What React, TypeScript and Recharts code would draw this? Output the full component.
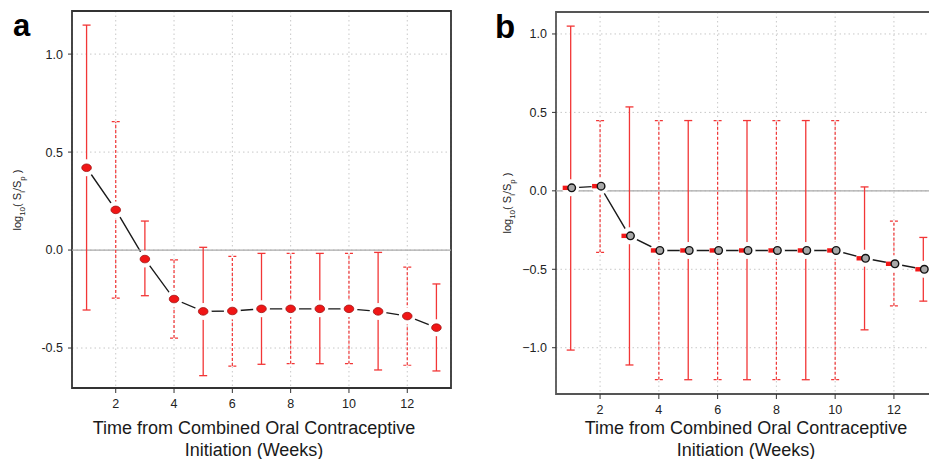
import React from "react";
import {
  ComposedChart,
  Line,
  Scatter,
  ErrorBar,
  XAxis,
  YAxis,
  CartesianGrid,
  ReferenceLine,
  ReferenceArea,
} from "recharts";

// weeks since COC initiation
const weeks = [1, 2, 3, 4, 5, 6, 7, 8, 9, 10, 11, 12, 13];
const xTicks = [2, 4, 6, 8, 10, 12];

// panel a
const aMean = [0.42, 0.205, -0.046, -0.25, -0.313, -0.311, -0.3, -0.3, -0.3, -0.3, -0.313, -0.337, -0.396];
const aUpper = [1.148, 0.655, 0.148, -0.05, 0.014, -0.032, -0.017, -0.017, -0.017, -0.017, -0.012, -0.087, -0.173];
const aLower = [-0.306, -0.245, -0.233, -0.449, -0.641, -0.592, -0.583, -0.58, -0.58, -0.58, -0.612, -0.588, -0.617];
const aYTicks = [-0.5, 0, 0.5, 1];

// panel b
const bMean = [0.019, 0.03, -0.287, -0.38, -0.38, -0.38, -0.38, -0.38, -0.38, -0.38, -0.43, -0.465, -0.5];
const bUpper = [1.05, 0.448, 0.535, 0.448, 0.448, 0.448, 0.448, 0.448, 0.448, 0.448, 0.025, -0.193, -0.297];
const bLower = [-1.015, -0.392, -1.11, -1.204, -1.204, -1.204, -1.204, -1.204, -1.204, -1.204, -0.886, -0.733, -0.703];
const bYTicks = [-1, -0.5, 0, 0.5, 1];

const RED = "#f23636";
const FONT = "'Liberation Sans', Arial, sans-serif";

function buildRows(mean: number[], lo: number[], hi: number[]) {
  return weeks.map((x, i) => ({
    x,
    v: mean[i],
    err: [mean[i] - lo[i], hi[i] - mean[i]],
  }));
}

const Halo = (p: any) => <circle cx={p.cx} cy={p.cy} r={8.5} fill="#fff" />;
const Nothing = () => <g />;

const MarkerA = (p: any) => (
  <ellipse cx={p.cx} cy={p.cy} rx={4.8} ry={3.8} fill="#f01616" stroke="#a01212" strokeWidth={0.8} />
);

const MarkerB = (p: any) => (
  <g>
    <rect x={p.cx - 8} y={p.cy - 2.2} width={9} height={4.4} fill="#f21818" />
    <circle cx={p.cx + 1} cy={p.cy} r={3.8} fill="#a8a8a8" stroke="#111" strokeWidth={1.4} />
  </g>
);

const fmtA = (v: number) => (v < 0 ? "-" + Math.abs(v).toFixed(1) : v.toFixed(1));
const fmtB = (v: number) => (v < 0 ? "\u2212" + Math.abs(v).toFixed(1) : v.toFixed(1));

interface PanelProps {
  rows: { x: number; v: number; err: number[] }[];
  width: number;
  margin: { top: number; right: number; bottom: number; left: number };
  yAxisWidth: number;
  xDomain: [number, number];
  yDomain: [number, number];
  yTicks: number[];
  fmt: (v: number) => string;
  marker: (p: any) => React.ReactElement;
  frame: string;
}

function Panel({ rows, width, margin, yAxisWidth, xDomain, yDomain, yTicks, fmt, marker, frame }: PanelProps) {
  const odd = rows.filter((r) => r.x % 2 === 1);
  const even = rows.filter((r) => r.x % 2 === 0);
  return (
    <ComposedChart width={width} height={459} data={rows} margin={margin}>
      <CartesianGrid stroke="#c8c8c8" strokeDasharray="1.5 3" />
      <XAxis
        dataKey="x"
        type="number"
        domain={xDomain}
        ticks={xTicks}
        interval={0}
        allowDataOverflow
        axisLine={false}
        tickSize={5}
        tickMargin={6}
        height={30}
        tickLine={{ stroke: "#333" }}
        tick={{ fontSize: 12.5, fill: "#222", fontFamily: FONT }}
      />
      <YAxis
        type="number"
        domain={yDomain}
        ticks={yTicks}
        tickFormatter={fmt}
        interval={0}
        allowDataOverflow
        axisLine={false}
        width={yAxisWidth}
        tickSize={4}
        tickMargin={5}
        tickLine={{ stroke: "#333" }}
        tick={{ fontSize: 12.5, fill: "#222", fontFamily: FONT }}
      />
      <Line dataKey="v" stroke="#1a1a1a" strokeWidth={1.4} dot={false} isAnimationActive={false} />
      <Scatter data={rows} dataKey="v" shape={Halo} isAnimationActive={false} />
      <ReferenceLine y={0} stroke="#aaaaaa" strokeWidth={1.2} />
      <ReferenceArea
        x1={xDomain[0]}
        x2={xDomain[1]}
        y1={yDomain[0]}
        y2={yDomain[1]}
        fill="none"
        fillOpacity={0}
        stroke={frame}
        strokeWidth={1.8}
      />
      <Scatter data={odd} dataKey="v" shape={Nothing} isAnimationActive={false}>
        <ErrorBar dataKey="err" direction="y" width={4} stroke={RED} strokeWidth={1.3} isAnimationActive={false} />
      </Scatter>
      <Scatter data={even} dataKey="v" shape={Nothing} isAnimationActive={false}>
        <ErrorBar
          dataKey="err"
          direction="y"
          width={4}
          stroke={RED}
          strokeWidth={1.2}
          strokeDasharray="3 2"
          isAnimationActive={false}
        />
      </Scatter>
      <Scatter data={rows} dataKey="v" shape={marker} isAnimationActive={false} />
    </ComposedChart>
  );
}

const YLabel = ({ left, top }: { left: number; top: number }) => (
  <div
    style={{
      position: "absolute",
      left,
      top,
      transform: "translate(-50%, -50%) rotate(-90deg)",
      whiteSpace: "nowrap",
      fontSize: 11,
      color: "#222",
    }}
  >
    log<sub style={{ fontSize: 8 }}>10</sub>( S<sub style={{ fontSize: 8 }}>i</sub>/S
    <sub style={{ fontSize: 8 }}>p</sub> )
  </div>
);

const XTitle = ({ center }: { center: number }) => (
  <div
    style={{
      position: "absolute",
      left: center - 200,
      top: 417,
      width: 400,
      textAlign: "center",
      fontSize: 18,
      lineHeight: "22px",
      color: "#1a1a1a",
    }}
  >
    Time from Combined Oral Contraceptive
    <br />
    Initiation (Weeks)
  </div>
);

export default function App() {
  const rowsA = buildRows(aMean, aLower, aUpper);
  const rowsB = buildRows(bMean, bLower, bUpper);
  return (
    <div
      style={{
        position: "fixed",
        left: 0,
        top: 0,
        width: 929,
        height: 459,
        overflow: "hidden",
        background: "#fff",
        fontFamily: FONT,
      }}
    >
      <div style={{ position: "absolute", left: 0, top: 0 }}>
        <Panel
          rows={rowsA}
          width={470}
          margin={{ top: 11, right: 19, bottom: 41, left: 0 }}
          yAxisWidth={72}
          xDomain={[0.5, 13.5]}
          yDomain={[-0.704, 1.22]}
          yTicks={aYTicks}
          fmt={fmtA}
          marker={MarkerA}
          frame="#333"
        />
      </div>
      <div style={{ position: "absolute", left: 470, top: 0 }}>
        <Panel
          rows={rowsB}
          width={480}
          margin={{ top: 12, right: 12, bottom: 35, left: 0 }}
          yAxisWidth={86}
          xDomain={[0.5, 13.5]}
          yDomain={[-1.295, 1.14]}
          yTicks={bYTicks}
          fmt={fmtB}
          marker={MarkerB}
          frame="#555"
        />
      </div>
      <YLabel left={19} top={200} />
      <YLabel left={509} top={203} />
      <XTitle center={254} />
      <XTitle center={746} />
      <div style={{ position: "absolute", left: 13, top: 10, fontSize: 31, fontWeight: "bold", lineHeight: 1 }}>a</div>
      <div style={{ position: "absolute", left: 495, top: 10, fontSize: 33, fontWeight: "bold", lineHeight: 1 }}>b</div>
    </div>
  );
}
